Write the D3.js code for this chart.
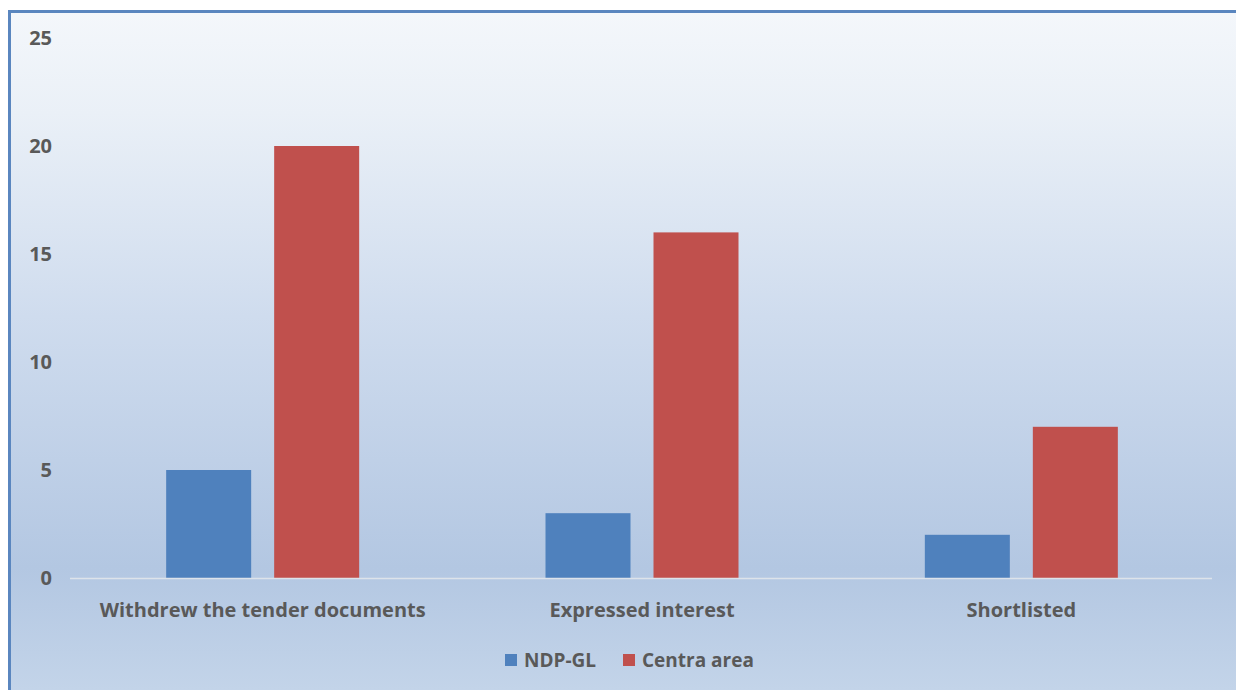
<!DOCTYPE html>
<html><head><meta charset="utf-8">
<script src="https://cdn.jsdelivr.net/npm/d3@7"></script>
<style>html,body{margin:0;padding:0;background:#fff;}svg{display:block;}</style>
</head><body><div id="chart"></div>
<script>
const categories = ["Withdrew the tender documents", "Expressed interest", "Shortlisted"];
const seriesNames = ["NDP-GL", "Centra area"];
const ndpValues = [5, 3, 2];
const centraValues = [20, 16, 7];
const yTicks = [0, 5, 10, 15, 20, 25];
const colors = ["#4f81bd", "#c0504d"];

const W = 1236, H = 690;
const FONT = "'Open Sans', 'DejaVu Sans', sans-serif";
const svg = d3.select("#chart").append("svg").attr("width", W).attr("height", H);
const defs = svg.append("defs");
const grad = defs.append("linearGradient").attr("id","bg").attr("x1",0).attr("y1",0).attr("x2",0).attr("y2",1);
[[0,"#f4f7fb"],[0.15,"#eaf0f7"],[0.45,"#cfdcee"],[0.82,"#b3c7e2"],[1,"#c3d4e9"]].forEach(s=>grad.append("stop").attr("offset",s[0]).attr("stop-color",s[1]));

svg.append("rect").attr("x",10).attr("y",11).attr("width",W-10).attr("height",H-11).attr("fill","url(#bg)");
svg.append("line").attr("x1",9.5).attr("x2",9.5).attr("y1",10).attr("y2",H).attr("stroke","#5a86bf").attr("stroke-width",3);
svg.append("line").attr("x1",8).attr("x2",W).attr("y1",11.5).attr("y2",11.5).attr("stroke","#5a86bf").attr("stroke-width",3);

const pLeft = 73, pRight = 1211, pTop = 38, pBottom = 578;
const y = d3.scaleLinear().domain([0,25]).range([pBottom, pTop]);
const x0 = d3.scaleBand().domain(categories).range([pLeft, pRight]).padding(0);
const x1 = d3.scaleBand().domain(seriesNames).range([0, 193]).paddingInner(23/108).paddingOuter(0);
const groupOffset = (x0.bandwidth() - 193) / 2;

const data = categories.map((c,i)=>({cat:c, vals:[ndpValues[i], centraValues[i]]}));

// y axis labels
const yAxis = d3.axisLeft(y).tickValues(yTicks).tickSize(0).tickPadding(0).tickFormat(d3.format("d"));
const yg = svg.append("g").attr("transform",`translate(52,0)`).call(yAxis);
yg.select(".domain").remove();
yg.selectAll("text").attr("fill","#595959").style("font-family",FONT).style("font-weight","bold").style("font-size","20px");

// bars
const g = svg.append("g");
data.forEach(d=>{
  seriesNames.forEach((s,j)=>{
    g.append("rect")
      .attr("x", x0(d.cat) + groupOffset + x1(s))
      .attr("y", y(d.vals[j]))
      .attr("width", x1.bandwidth())
      .attr("height", y(0) - y(d.vals[j]))
      .attr("fill", colors[j]);
  });
});

// x axis
const xAxis = d3.axisBottom(x0).tickSize(0).tickPadding(25);
const xg = svg.append("g").attr("transform",`translate(0,${pBottom})`).call(xAxis);
xg.select(".domain").attr("stroke","#dde3ea").attr("stroke-width",1.5).attr("d",`M${pLeft-3},0.5H${pRight+1}`);
xg.selectAll("text").attr("fill","#595959").style("font-family",FONT).style("font-weight","bold").style("font-size","20px");

// legend
const leg = svg.append("g").style("font-family",FONT).style("font-weight","bold").style("font-size","19px");
const legX = [505, 623];
seriesNames.forEach((s,j)=>{
  leg.append("rect").attr("x",legX[j]).attr("y",654).attr("width",12).attr("height",12).attr("fill",colors[j]);
  leg.append("text").attr("x",legX[j]+19).attr("y",667).attr("fill","#595959").text(s);
});
</script></body></html>
